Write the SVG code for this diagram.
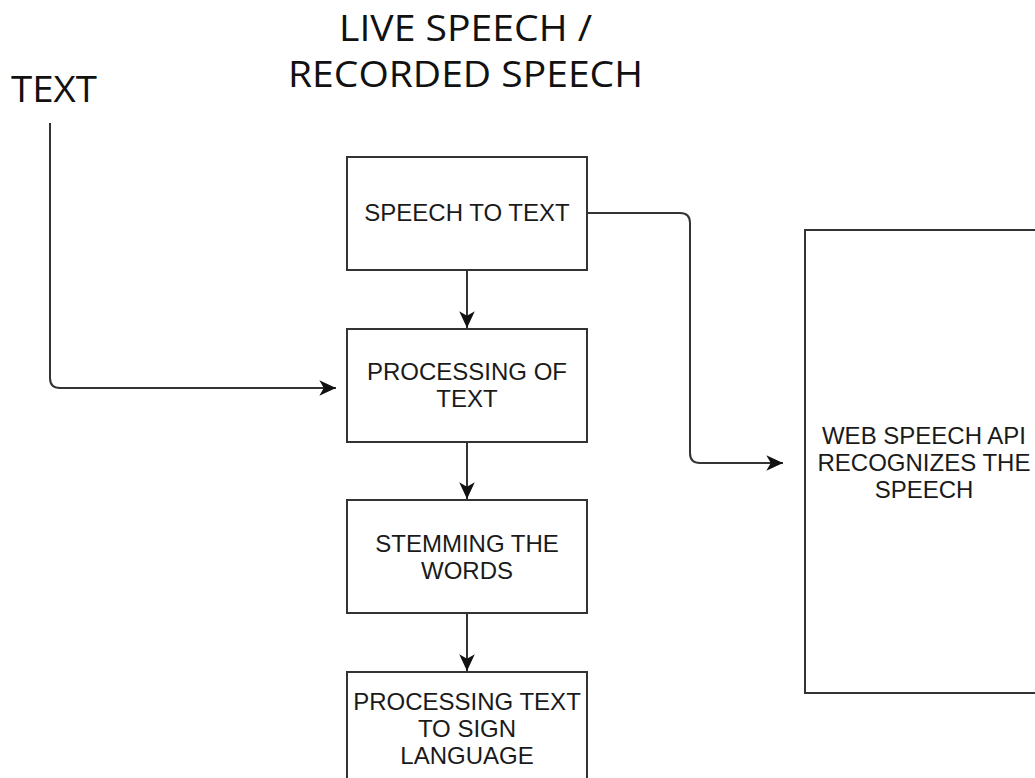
<svg xmlns="http://www.w3.org/2000/svg" width="1035" height="778" viewBox="0 0 1035 778">
  <style>
    .box { fill: #ffffff; stroke: #333333; stroke-width: 2; }
    .lbl { font-family: "Liberation Sans", Arial, sans-serif; font-size: 24px; fill: #1a1a1a; text-anchor: middle; }
    .big { font-family: "Open Sans", "Noto Sans", sans-serif; font-size: 37px; fill: #111111; }
    .edge { fill: none; stroke: #333333; stroke-width: 2; }
  </style>
  <defs>
    <marker id="arrow" markerUnits="userSpaceOnUse" markerWidth="20" markerHeight="20" viewBox="-16 -8 18 16" refX="0" refY="0" orient="auto">
      <path d="M0,0 L-15,-7 L-11,0 L-15,7 Z" fill="#111111"/>
    </marker>
  </defs>
  <rect width="1035" height="778" fill="#ffffff"/>

  <!-- free labels -->
  <g id="title">
    <text class="big" x="339" y="41" textLength="253" lengthAdjust="spacingAndGlyphs">LIVE SPEECH /</text>
    <text class="big" x="288" y="87" textLength="355" lengthAdjust="spacingAndGlyphs">RECORDED SPEECH</text>
  </g>
  <g id="text-input">
    <text class="big" x="11" y="102" textLength="86" lengthAdjust="spacingAndGlyphs">TEXT</text>
  </g>

  <!-- connectors -->
  <g id="connectors">
    <path class="edge" d="M50,123 V378 Q50,388 60,388 H336" marker-end="url(#arrow)"/>
    <path class="edge" d="M587,213 H680 Q690,213 690,223 V453 Q690,463 700,463 H783" marker-end="url(#arrow)"/>
    <path class="edge" d="M467,270 V328" marker-end="url(#arrow)"/>
    <path class="edge" d="M467,442 V499" marker-end="url(#arrow)"/>
    <path class="edge" d="M467,613 V671" marker-end="url(#arrow)"/>
  </g>

  <!-- nodes -->
  <g id="speech-to-text">
    <rect class="box" x="347" y="157" width="240" height="113"/>
    <text class="lbl" x="467" y="221">SPEECH TO TEXT</text>
  </g>
  <g id="processing-of-text">
    <rect class="box" x="347" y="329" width="240" height="113"/>
    <text class="lbl" x="467" y="380">PROCESSING OF</text>
    <text class="lbl" x="467" y="407">TEXT</text>
  </g>
  <g id="stemming">
    <rect class="box" x="347" y="500" width="240" height="113"/>
    <text class="lbl" x="467" y="552">STEMMING THE</text>
    <text class="lbl" x="467" y="579">WORDS</text>
  </g>
  <g id="text-to-sign">
    <rect class="box" x="347" y="672" width="240" height="113"/>
    <text class="lbl" x="467" y="710">PROCESSING TEXT</text>
    <text class="lbl" x="467" y="737">TO SIGN</text>
    <text class="lbl" x="467" y="764">LANGUAGE</text>
  </g>
  <g id="web-speech-api">
    <rect class="box" x="805" y="230" width="240" height="463"/>
    <text class="lbl" x="924" y="444">WEB SPEECH API</text>
    <text class="lbl" x="924" y="471">RECOGNIZES THE</text>
    <text class="lbl" x="924" y="498">SPEECH</text>
  </g>
</svg>
